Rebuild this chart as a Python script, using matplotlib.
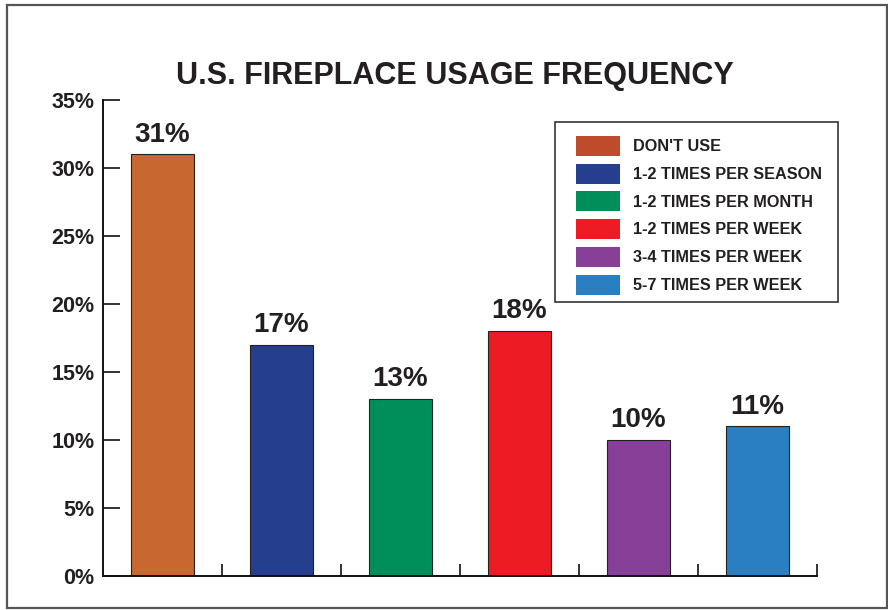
import matplotlib
matplotlib.use("Agg")
import matplotlib.pyplot as plt
from matplotlib.patches import Patch, Rectangle

categories = ["DON'T USE", "1-2 TIMES PER SEASON", "1-2 TIMES PER MONTH",
              "1-2 TIMES PER WEEK", "3-4 TIMES PER WEEK", "5-7 TIMES PER WEEK"]
values = [31, 17, 13, 18, 10, 11]
bar_colors = ["#C8672F", "#253E8E", "#008F5A", "#ED1C24", "#873F97", "#2A7FC3"]
legend_colors = ["#BF4B2D", "#253E8E", "#008F5A", "#ED1C24", "#873F97", "#2A7FC3"]
y_ticks = [0, 5, 10, 15, 20, 25, 30, 35]
title = "U.S. FIREPLACE USAGE FREQUENCY"

plt.rcParams['font.family'] = ['Liberation Sans', 'DejaVu Sans']
txt = "#231f20"

W, H = 888, 610
fig = plt.figure(figsize=(W / 100, H / 100), dpi=100)

# outer frame
fig.patches.append(Rectangle((7 / W, 2 / H), 880 / W, 603 / H, transform=fig.transFigure,
                             fill=False, edgecolor="#555555", linewidth=1.6))

ax = fig.add_axes([103 / W, 1 - 576 / H, 714 / W, 476 / H])
x = list(range(len(values)))
ax.bar(x, values, width=0.53, color=bar_colors, edgecolor="#222222", linewidth=0.8, zorder=2)
for xi, v in zip(x, values):
    ax.text(xi, v + 0.5, f"{v}%", ha="center", va="bottom", fontsize=20,
            fontweight="bold", color=txt)

ax.set_xlim(-0.5, len(values) - 0.5)
ax.set_ylim(0, 35)
ax.set_yticks(y_ticks)
ax.set_yticklabels([f"{t}%" for t in y_ticks], fontsize=15.5, fontweight="bold", color=txt)
ax.set_xticks([i + 0.5 for i in range(len(values))])
ax.set_xticklabels([])
ax.tick_params(axis="y", direction="in", length=12, width=1.2, pad=6, color="#111111")
ax.tick_params(axis="x", direction="in", length=9, width=1.2, color="#111111")
for s in ["top", "right"]:
    ax.spines[s].set_visible(False)
for s in ["left", "bottom"]:
    ax.spines[s].set_linewidth(1.4)
    ax.spines[s].set_color("#111111")

# legend frame
frame = Rectangle((555 / W, 1 - 302 / H), 283 / W, 180 / H, transform=fig.transFigure,
                  facecolor="white", edgecolor="#333333", linewidth=1.2, zorder=4,
                  clip_on=False)
ax.add_patch(frame)
handles = [Patch(facecolor=c, edgecolor="none") for c in legend_colors]
fs = 11.7
px = fs * 100 / 72
hh = (20 / px - 0.245) / 0.65
leg = ax.legend(handles, categories, loc="upper left",
                bbox_to_anchor=(576 / W, 1 - 136 / H), bbox_transform=fig.transFigure,
                prop={"weight": "bold", "size": fs}, frameon=False,
                borderpad=0, handlelength=44 / px,
                handleheight=hh, labelspacing=7.7 / px, handletextpad=13 / px,
                borderaxespad=0)
leg.set_zorder(5)
for t in leg.get_texts():
    t.set_color(txt)

fig.text(454.5 / W, 1 - 84 / H, title, ha="center", va="baseline", fontsize=22,
         fontweight="bold", color=txt)

fig.savefig("out.png", dpi=100)
